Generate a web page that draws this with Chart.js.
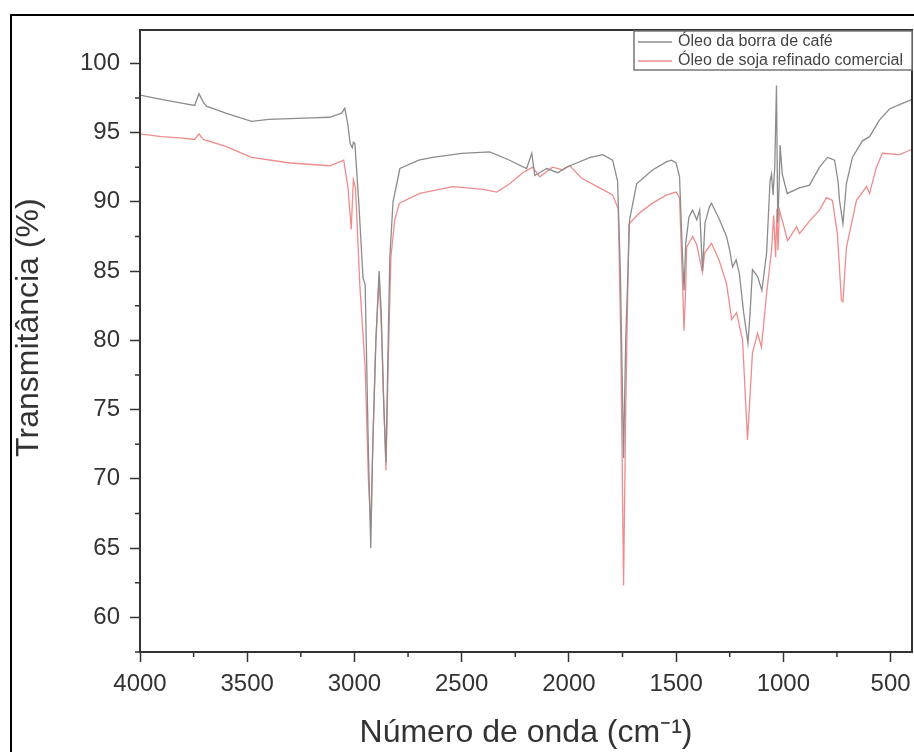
<!DOCTYPE html>
<html>
<head>
<meta charset="utf-8">
<script src="https://cdn.jsdelivr.net/npm/chart.js@4.4.1/dist/chart.umd.min.js"></script>
<style>
  html, body { margin: 0; padding: 0; background: #fff; overflow: hidden; }
  #wrap { position: relative; width: 914px; height: 752px; }
  #frame { position: absolute; left: 10px; top: 14px; width: 1000px; height: 1000px; border: 2px solid #000; pointer-events: none; }
</style>
</head>
<body>
<div id="wrap">
  <canvas id="myChart" width="914" height="752"></canvas>
  <div id="frame"></div>
</div>
<script>
// Óleo da borra de café (cinza)
const coffeeWavenumber = [4000, 3900, 3800, 3745, 3725, 3705, 3690, 3600, 3480, 3400, 3300, 3200, 3115, 3060, 3045, 3030, 3020, 3010, 3005, 2998, 2980, 2960, 2950, 2935, 2924, 2915, 2900, 2885, 2875, 2865, 2853, 2845, 2835, 2820, 2800, 2788, 2700, 2635, 2500, 2369, 2276, 2197, 2173, 2159, 2103, 2052, 2010, 1964, 1900, 1842, 1796, 1773, 1760, 1745, 1735, 1717, 1684, 1610, 1544, 1521, 1500, 1484, 1470, 1463, 1455, 1440, 1423, 1404, 1390, 1377, 1365, 1345, 1335, 1300, 1265, 1250, 1237, 1220, 1205, 1185, 1165, 1155, 1144, 1120, 1100, 1078, 1062, 1055, 1048, 1040, 1032, 1026, 1020, 1015, 1005, 982, 925, 878, 831, 794, 761, 745, 738, 722, 706, 678, 631, 598, 552, 505, 445, 412, 400];
const coffeeTransmittance = [97.7, 97.4, 97.1, 96.95, 97.8, 97.2, 96.9, 96.4, 95.8, 95.95, 96.0, 96.05, 96.1, 96.4, 96.75, 95.5, 94.2, 93.9, 94.3, 94.2, 90.0, 84.5, 84.0, 72.0, 65.0, 72.0, 80.0, 85.0, 82.0, 76.0, 71.2, 78.0, 86.0, 90.0, 91.5, 92.4, 93.0, 93.2, 93.5, 93.6, 93.0, 92.4, 93.5, 91.9, 92.4, 92.1, 92.5, 92.8, 93.2, 93.4, 93.0, 91.5, 85.0, 71.5, 80.0, 88.7, 91.3, 92.3, 92.9, 93.0, 92.8, 91.8, 86.0, 83.6, 87.0, 88.9, 89.4, 88.7, 89.4, 85.0, 88.5, 89.6, 89.9, 88.8, 87.5, 86.5, 85.3, 85.8, 84.8, 82.0, 79.8, 82.0, 85.1, 84.6, 83.6, 86.3, 91.5, 92.0, 90.5, 92.5, 98.4, 88.5, 91.0, 94.1, 92.0, 90.6, 91.0, 91.2, 92.5, 93.2, 93.0, 91.5, 90.1, 88.4, 91.3, 93.2, 94.4, 94.7, 95.9, 96.7, 97.1, 97.3, 97.4];

// Óleo de soja refinado comercial (vermelho)
const soyWavenumber = [4000, 3900, 3800, 3745, 3725, 3705, 3600, 3480, 3300, 3115, 3050, 3030, 3015, 3005, 2995, 2975, 2950, 2935, 2924, 2912, 2900, 2885, 2872, 2853, 2843, 2830, 2812, 2790, 2695, 2542, 2400, 2336, 2276, 2215, 2169, 2136, 2076, 2029, 1996, 1940, 1857, 1796, 1770, 1758, 1745, 1735, 1720, 1670, 1610, 1544, 1500, 1484, 1472, 1463, 1455, 1451, 1423, 1404, 1377, 1367, 1335, 1300, 1265, 1241, 1218, 1190, 1167, 1144, 1120, 1102, 1078, 1055, 1045, 1036, 1030, 1025, 1018, 980, 938, 925, 878, 831, 799, 771, 748, 729, 722, 706, 659, 612, 598, 566, 538, 459, 412, 400];
const soyTransmittance = [94.9, 94.7, 94.6, 94.5, 94.9, 94.5, 94.0, 93.2, 92.8, 92.6, 93.0, 91.0, 88.0, 91.6, 91.0, 84.0, 78.0, 70.0, 66.5, 74.0, 80.0, 84.5, 80.0, 70.6, 78.0, 86.0, 88.7, 89.9, 90.6, 91.1, 90.9, 90.7, 91.3, 92.1, 92.5, 91.8, 92.5, 92.3, 92.6, 91.7, 91.0, 90.5, 89.5, 80.0, 62.3, 75.0, 88.4, 89.2, 89.9, 90.5, 90.7, 90.3, 85.0, 80.7, 84.0, 86.7, 87.5, 86.9, 84.9, 86.3, 87.0, 85.8, 84.1, 81.5, 82.0, 80.0, 72.8, 79.1, 80.5, 79.5, 83.4, 86.5, 89.0, 86.0, 89.5, 86.5, 89.4, 87.2, 88.2, 87.7, 88.6, 89.4, 90.3, 90.1, 87.7, 82.9, 82.8, 86.7, 90.1, 91.1, 90.6, 92.5, 93.5, 93.4, 93.7, 93.8];

const seriesLabels = ['Óleo da borra de café', 'Óleo de soja refinado comercial'];
const xTickValues = [4000, 3500, 3000, 2500, 2000, 1500, 1000, 500];
const yTickValues = [60, 65, 70, 75, 80, 85, 90, 95, 100];
const xTitle = 'Número de onda (cm⁻¹)';
const yTitle = '   Transmitância (%)';

function toPoints(xs, ys) {
    return xs.map(function (x, i) { return {x: x, y: ys[i]}; });
}

const axisColor = '#333';
const fontFamily = '"Liberation Sans", Arial, sans-serif';

// ticks menores, moldura do gráfico e legenda interna
const framePlugin = {
    id: 'framePlugin',
    afterDraw(chart) {
        const ctx = chart.ctx;
        const area = chart.chartArea;
        const xs = chart.scales.x;
        const ys = chart.scales.y;
        ctx.save();
        ctx.strokeStyle = axisColor;
        ctx.lineWidth = 2;
        ctx.strokeRect(area.left, area.top, area.right - area.left, area.bottom - area.top);

        ctx.lineWidth = 1.5;
        ctx.beginPath();
        for (let v = 750; v < 4000; v += 500) {
            const px = xs.getPixelForValue(v);
            ctx.moveTo(px, area.bottom);
            ctx.lineTo(px, area.bottom + 5);
        }
        for (let v = 57.5; v < 102; v += 5) {
            const py = ys.getPixelForValue(v);
            ctx.moveTo(area.left, py);
            ctx.lineTo(area.left - 5, py);
        }
        ctx.stroke();

        // legenda
        const bx = 634, by = 31, bw = area.right - 634, bh = 39;
        ctx.fillStyle = '#fff';
        ctx.fillRect(bx, by, bw, bh);
        ctx.strokeStyle = '#777';
        ctx.lineWidth = 1.5;
        ctx.strokeRect(bx, by, bw, bh);
        ctx.font = '16px ' + fontFamily;
        ctx.textBaseline = 'middle';
        chart.data.datasets.forEach(function (ds, i) {
            const ly = by + 11 + i * 19;
            ctx.strokeStyle = ds.borderColor;
            ctx.lineWidth = 1.3;
            ctx.beginPath();
            ctx.moveTo(bx + 4, ly);
            ctx.lineTo(bx + 38, ly);
            ctx.stroke();
            ctx.fillStyle = '#444';
            ctx.fillText(ds.label, bx + 44, ly);
        });
        ctx.restore();
    }
};

var ctx = document.getElementById('myChart').getContext('2d');
var mychart = new Chart(ctx, {
    type: 'line',
    data: {
        datasets: [{
            label: seriesLabels[0],
            data: toPoints(coffeeWavenumber, coffeeTransmittance),
            borderColor: '#8c8c8c',
            borderWidth: 1.3,
            pointRadius: 0,
            tension: 0
        }, {
            label: seriesLabels[1],
            data: toPoints(soyWavenumber, soyTransmittance),
            borderColor: '#ef8c8c',
            borderWidth: 1.3,
            pointRadius: 0,
            tension: 0
        }]
    },
    options: {
        responsive: false,
        animation: false,
        layout: { padding: { top: 30, right: 2, left: 0, bottom: 0 } },
        plugins: {
            legend: { display: false },
            tooltip: { enabled: false }
        },
        scales: {
            x: {
                type: 'linear',
                reverse: true,
                min: 400,
                max: 4000,
                afterBuildTicks: function (scale) {
                    scale.ticks = xTickValues.map(function (v) { return {value: v}; });
                },
                afterFit: function (scale) {
                    scale.height = 100;
                    scale.paddingLeft = 0;
                    scale.paddingRight = 0;
                },
                border: { display: true, color: axisColor, width: 2 },
                grid: { drawOnChartArea: false, drawTicks: true, tickLength: 10, color: axisColor, tickWidth: 1.5 },
                ticks: {
                    color: '#333', padding: 8, maxRotation: 0, autoSkip: false,
                    font: { size: 24, family: fontFamily },
                    callback: function (v) { return String(v); }
                },
                title: { display: true, text: xTitle, color: '#333', padding: { top: 0, bottom: 0 }, font: { size: 32, family: fontFamily } }
            },
            y: {
                min: 57.5,
                max: 102.4,
                afterBuildTicks: function (scale) {
                    scale.ticks = yTickValues.map(function (v) { return {value: v}; });
                },
                afterFit: function (scale) {
                    scale.width = 140;
                    scale.paddingTop = 0;
                    scale.paddingBottom = 0;
                },
                border: { display: true, color: axisColor, width: 2 },
                grid: { drawOnChartArea: false, drawTicks: true, tickLength: 10, color: axisColor, tickWidth: 1.5 },
                ticks: {
                    color: '#333', padding: 10,
                    font: { size: 24, family: fontFamily },
                    callback: function (v) { return String(v); }
                },
                title: { display: true, text: yTitle, color: '#333', padding: { top: 10, bottom: 0 }, font: { size: 32, family: fontFamily } }
            }
        }
    },
    plugins: [framePlugin]
});
</script>
</body>
</html>
